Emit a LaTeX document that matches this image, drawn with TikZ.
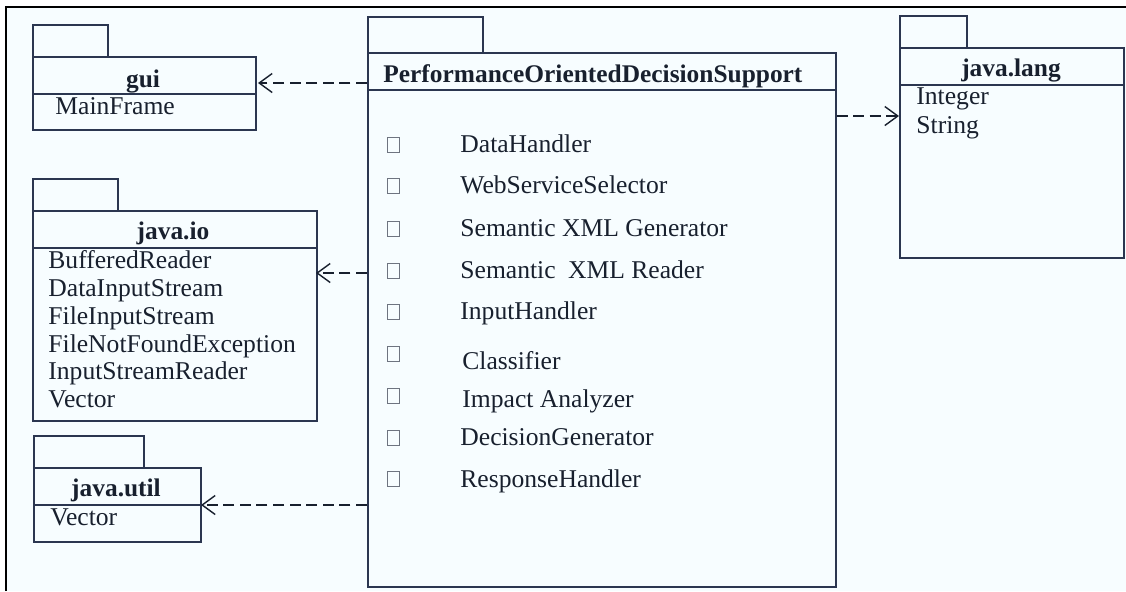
\documentclass[tikz,border=0pt]{standalone}
\usepackage{fontspec}
\setmainfont{Liberation Serif}
\usetikzlibrary{arrows.meta}
\definecolor{ink}{HTML}{18202E}
\definecolor{edge}{HTML}{2B3650}
\definecolor{paper}{HTML}{F7FDFF}
\definecolor{boxgray}{HTML}{6E7480}
\tikzset{
  pkgbody/.style={draw=edge, line width=0.75pt, anchor=north west, inner sep=0pt, fill=paper},
  pkgtab/.style={draw=edge, line width=0.75pt, anchor=north west, inner sep=0pt, fill=paper},
  pkgtitle/.style={inner sep=0pt, text=ink, font=\fontsize{12.7}{15}\selectfont\bfseries},
  member/.style={inner sep=0pt, anchor=base west, text=ink, font=\fontsize{12.8}{15}\selectfont},
  glyphbox/.style={draw=boxgray, line width=0.4pt, minimum width=6pt, minimum height=7.2pt, inner sep=0pt},
  dep/.style={draw=ink, line width=0.7pt, dash pattern=on 5.5pt off 2.8pt, -{Straight Barb[length=6.5pt,width=9.5pt,line width=0.7pt]}},
  divider/.style={draw=edge, line width=0.75pt}
}
\begin{document}
\begin{tikzpicture}[x=0.5pt, y=-0.5pt]
\useasboundingbox (0,0) rectangle (1126,591);
\fill[white] (0,0) rectangle (1126,591);
\fill[paper] (6,7) rectangle (1126,591);
\draw[black, line width=1pt] (6,591) -- (6,7) -- (1126,7);

% ---- gui ----
\node[pkgtab, minimum width=37.5pt, minimum height=16pt] (guitab) at (32,24) {};
\node[pkgbody, minimum width=111.5pt, minimum height=36.5pt] (gui) at (32,56) {};
\draw[divider] (32,94) -- (255,94);
\node[pkgtitle] (guiname) at (143,81) {gui};
\node[member] (guim1) at (55,114) {MainFrame};

% ---- java.io ----
\node[pkgtab, minimum width=42.5pt, minimum height=16pt] (iotab) at (32,178) {};
\node[pkgbody, minimum width=142pt, minimum height=105pt] (io) at (32,210) {};
\draw[divider] (32,248) -- (316,248);
\node[pkgtitle] (ioname) at (173,233) {java.io};
\node[member] (io1) at (48,268) {BufferedReader};
\node[member] (io2) at (48,296) {DataInputStream};
\node[member] (io3) at (48,324) {FileInputStream};
\node[member] (io4) at (48,352) {FileNotFoundException};
\node[member] (io5) at (48,379) {InputStreamReader};
\node[member] (io6) at (48,407) {Vector};

% ---- java.util ----
\node[pkgtab, minimum width=55pt, minimum height=16pt] (utiltab) at (33,435) {};
\node[pkgbody, minimum width=83.5pt, minimum height=37pt] (util) at (33,467) {};
\draw[divider] (33,505) -- (200,505);
\node[pkgtitle] (utilname) at (116,490) {java.util};
\node[member] (util1) at (50,525) {Vector};

% ---- PerformanceOrientedDecisionSupport ----
\node[pkgtab, minimum width=57.5pt, minimum height=18pt] (maintab) at (367,16) {};
\node[pkgbody, minimum width=234pt, minimum height=267pt] (main) at (367,52) {};
\draw[divider] (367,90) -- (835,90);
\node[pkgtitle, anchor=west] (mainname) at (383,76) {PerformanceOrientedDecisionSupport};

\node[glyphbox] (b1) at (393,145) {};
\node[member] (c1) at (460,152) {DataHandler};
\node[glyphbox] (b2) at (393,186) {};
\node[member] (c2) at (460,193) {WebServiceSelector};
\node[glyphbox] (b3) at (393,229) {};
\node[member] (c3) at (460,236) {Semantic XML Generator};
\node[glyphbox] (b4) at (393,271) {};
\node[member] (c4) at (460,278) {Semantic\hspace{3pt} XML Reader};
\node[glyphbox] (b5) at (393,312) {};
\node[member] (c5) at (460,319) {InputHandler};
\node[glyphbox] (b6) at (393,354) {};
\node[member] (c6) at (462,369) {Classifier};
\node[glyphbox] (b7) at (393,396) {};
\node[member] (c7) at (462,407) {Impact Analyzer};
\node[glyphbox] (b8) at (393,438) {};
\node[member] (c8) at (460,445) {DecisionGenerator};
\node[glyphbox] (b9) at (393,479) {};
\node[member] (c9) at (460,487) {ResponseHandler};

% ---- java.lang ----
\node[pkgtab, minimum width=33.5pt, minimum height=16pt] (langtab) at (899,15) {};
\node[pkgbody, minimum width=112pt, minimum height=105pt] (lang) at (899,47) {};
\draw[divider] (899,85) -- (1123,85);
\node[pkgtitle] (langname) at (1011,70) {java.lang};
\node[member] (lang1) at (916,104) {Integer};
\node[member] (lang2) at (916,133) {String};

% ---- dependencies ----
\coordinate (guiin) at (258,83);
\coordinate (ioin) at (316,273);
\coordinate (utilin) at (201,505);
\coordinate (langin) at (899,116);
\draw[dep] (main.west |- guiin) -- (guiin);
\draw[dep] (main.west |- ioin) -- (ioin);
\draw[dep] (main.west |- utilin) -- (utilin);
\draw[dep] (main.east |- langin) -- (langin);
\end{tikzpicture}
\end{document}
